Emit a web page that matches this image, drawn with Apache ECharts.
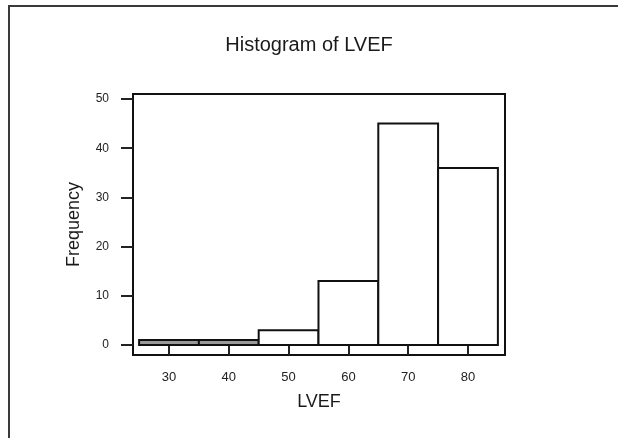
<!DOCTYPE html>
<html>
<head>
<meta charset="utf-8">
<script src="https://cdn.jsdelivr.net/npm/echarts@6/dist/echarts.min.js"></script>
<style>
html,body{margin:0;padding:0;background:#fff;}
#chart{width:618px;height:438px;}
</style>
</head>
<body>
<div id="chart"></div>
<script>
const binStarts = [25, 35, 45, 55, 65, 75];
const binEnds = [35, 45, 55, 65, 75, 85];
const counts = [1, 1, 3, 13, 45, 36];
const xTicks = [30, 40, 50, 60, 70, 80];
const yTicks = [0, 10, 20, 30, 40, 50];

const chart = echarts.init(document.getElementById('chart'), null, {renderer: 'canvas'});
const data = binStarts.map((s, i) => [s, binEnds[i], counts[i]]);
const font = 'Liberation Sans, Arial, sans-serif';

chart.setOption({
  animation: false,
  backgroundColor: '#fff',
  title: {
    text: 'Histogram of LVEF',
    left: 'center',
    top: 30,
    textStyle: {fontFamily: font, fontSize: 20, fontWeight: 'normal', color: '#1a1a1a'}
  },
  graphic: [{
    type: 'rect',
    shape: {x: 9, y: 6, width: 700, height: 500},
    style: {fill: 'none', stroke: '#3a3a3a', lineWidth: 2}
  }],
  grid: {
    left: 133, top: 94, width: 372, height: 261,
    show: true, borderColor: '#111', borderWidth: 2, backgroundColor: 'transparent'
  },
  xAxis: {
    type: 'value', min: 23.98, max: 86.19,
    name: 'LVEF', nameLocation: 'middle', nameGap: 38,
    nameTextStyle: {fontFamily: font, fontSize: 18, color: '#1a1a1a'},
    axisLine: {show: false},
    splitLine: {show: false},
    axisTick: {show: true, inside: false, length: 10, customValues: xTicks, lineStyle: {color: '#222', width: 2}},
    axisLabel: {customValues: xTicks, margin: 16, fontFamily: font, fontSize: 13, color: '#222'}
  },
  yAxis: {
    type: 'value', min: -2.03, max: 51.02,
    name: 'Frequency', nameLocation: 'middle', nameGap: 50,
    nameTextStyle: {fontFamily: font, fontSize: 18, color: '#1a1a1a'},
    axisLine: {show: false},
    splitLine: {show: false},
    axisTick: {show: true, inside: false, length: 12, customValues: yTicks, lineStyle: {color: '#222', width: 2}},
    axisLabel: {customValues: yTicks, margin: 24, fontFamily: font, fontSize: 12, color: '#222'}
  },
  series: [{
    type: 'custom',
    data: data,
    renderItem: function (params, api) {
      const p0 = api.coord([api.value(0), api.value(2)]);
      const p1 = api.coord([api.value(1), 0]);
      return {
        type: 'rect',
        shape: {x: p0[0], y: p0[1], width: p1[0] - p0[0], height: p1[1] - p0[1]},
        style: {fill: api.value(2) <= 1 ? '#9a9a9a' : '#fff', stroke: '#111', lineWidth: 2}
      };
    }
  }]
});
</script>
</body>
</html>
